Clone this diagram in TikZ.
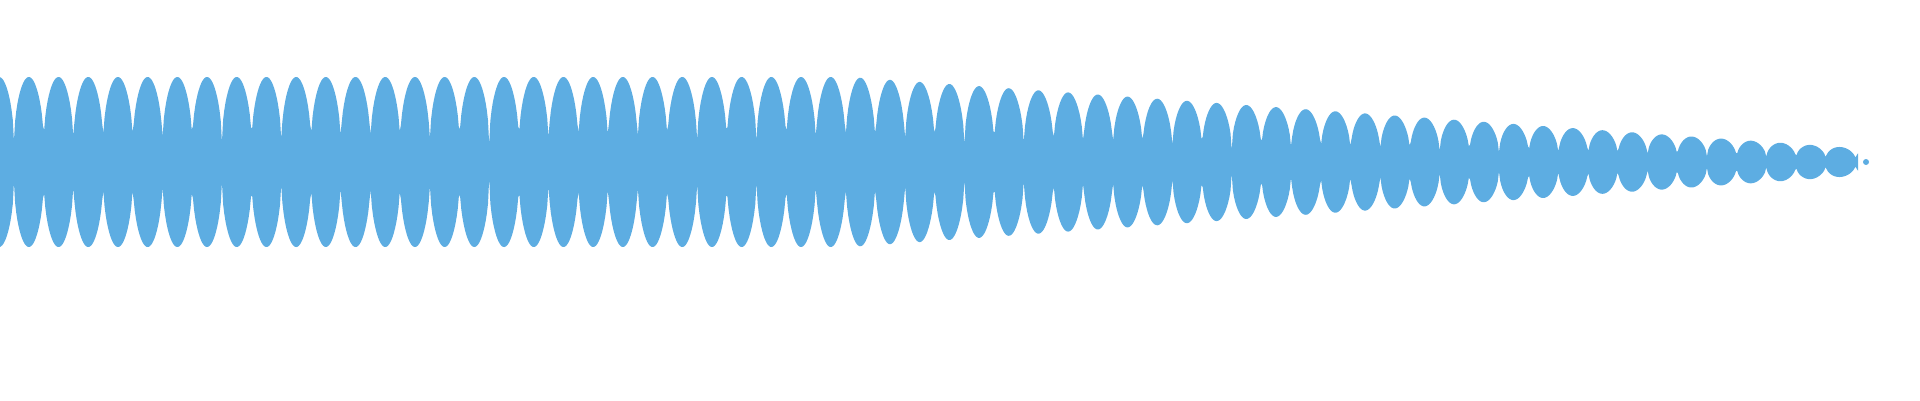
\documentclass[tikz,border=0pt]{standalone}
\definecolor{wave}{RGB}{93,173,226}
\begin{document}
\begin{tikzpicture}[x=1pt,y=-1pt]
\useasboundingbox (0,0) rectangle (1920,400);
\fill[wave] plot[domain=0:1858,samples=1600]
  (\x,{162-min(85,85-0.0707*(\x-850))*(0.16+0.84*(abs(sin(6.0606*(\x-14)))+0.0001)^0.45)})
  -- plot[domain=1858:0,samples=1600]
  (\x,{162+min(85,85-0.0707*(\x-850))*(0.16+0.84*(abs(sin(6.0606*(\x-14)))+0.0001)^0.45)}) -- cycle;
\fill[wave] (1866,162) circle (3);
\end{tikzpicture}
\end{document}
